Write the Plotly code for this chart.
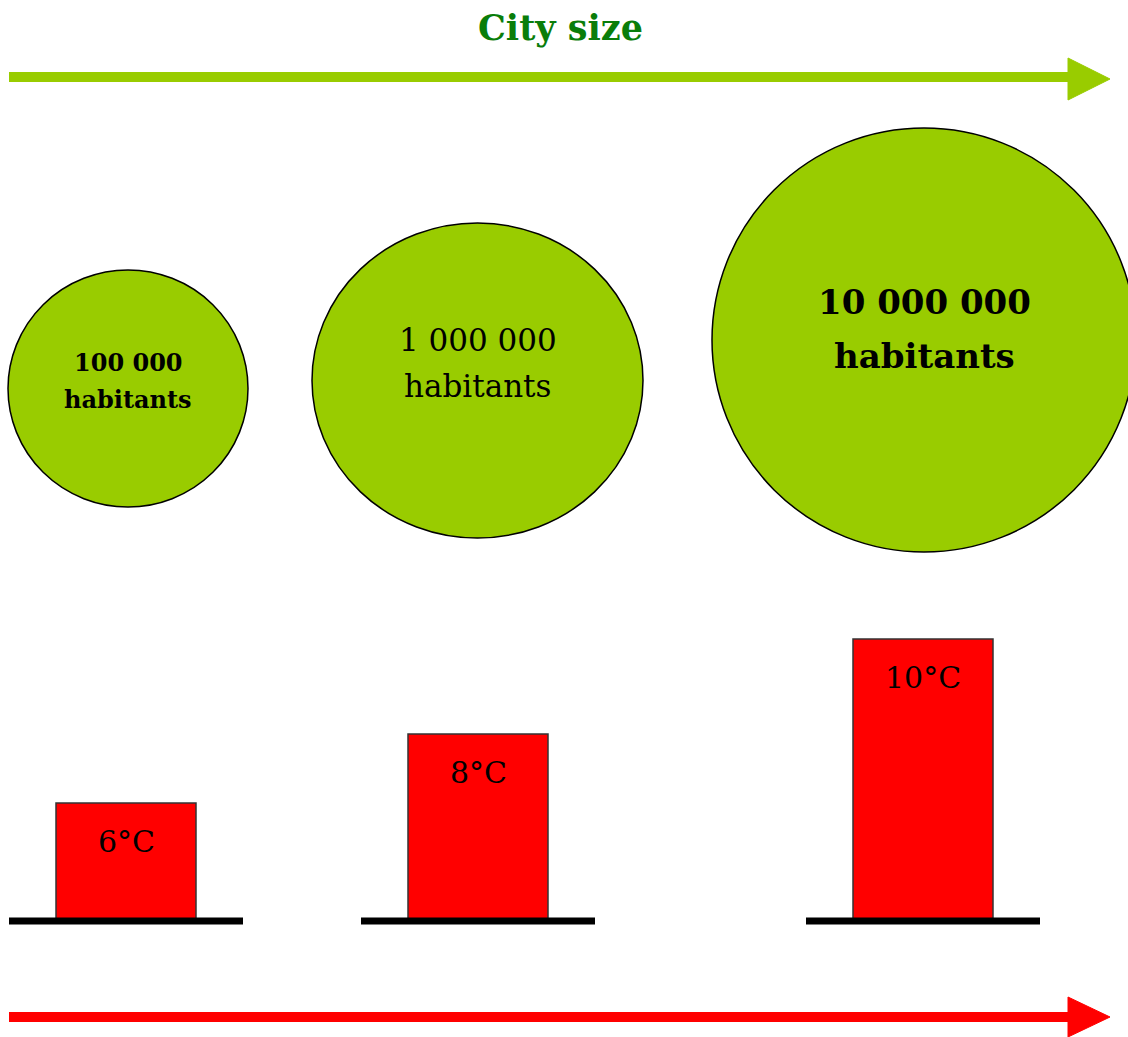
import plotly.graph_objects as go

# ---------------- data ----------------
city_categories = ["small", "medium", "large"]
populations = [100000, 1000000, 10000000]
temperatures = [6, 8, 10]                 # °C labels
bar_heights = [118, 187, 282]             # drawn bar heights
title_text = "City size"
unit_text = "habitants"

# ---------------- layout constants (pixel frame, y up) ----------------
W, H = 1128, 1037
bar_centers = [126, 478, 923]
bar_width = 140
base_y = H - 921
circle_boxes = [(8, 248, 270, 507), (312, 643, 223, 538), (712, 1136, 128, 552)]  # x0,x1,ytop,ybot (image px)
circle_font = [dict(size=24, bold=True), dict(size=31, bold=False), dict(size=34, bold=True)]
line1_y = [362, 340, 302]
line2_y = [399, 386, 356]

GREEN = "#99CC00"
RED = "#FF0000"

def fy(y):
    return H - y

fig = go.Figure()

fig.add_trace(go.Bar(
    x=bar_centers, y=bar_heights, base=base_y, width=bar_width,
    marker=dict(color=RED, line=dict(color="#333333", width=1.5)),
    hoverinfo="skip", showlegend=False,
))

shapes = []
# circles
for (x0, x1, yt, yb) in circle_boxes:
    shapes.append(dict(type="circle", xref="x", yref="y", x0=x0, x1=x1, y0=fy(yb), y1=fy(yt),
                       fillcolor=GREEN, line=dict(color="black", width=1.5), layer="below"))
# baselines
for c in bar_centers:
    shapes.append(dict(type="line", xref="x", yref="y", x0=c - 117, x1=c + 117, y0=base_y, y1=base_y,
                       line=dict(color="black", width=7), layer="above"))
# top arrow
shapes.append(dict(type="line", xref="x", yref="y", x0=9, x1=1072, y0=fy(77), y1=fy(77),
                   line=dict(color=GREEN, width=10)))
shapes.append(dict(type="path", xref="x", yref="y",
                   path=f"M1068,{fy(58)} L1110,{fy(79)} L1068,{fy(100)} Z",
                   fillcolor=GREEN, line=dict(color=GREEN, width=1)))
# bottom arrow
shapes.append(dict(type="line", xref="x", yref="y", x0=9, x1=1072, y0=fy(1017), y1=fy(1017),
                   line=dict(color=RED, width=10)))
shapes.append(dict(type="path", xref="x", yref="y",
                   path=f"M1068,{fy(997)} L1110,{fy(1017)} L1068,{fy(1037)} Z",
                   fillcolor=RED, line=dict(color=RED, width=1)))

annotations = []
annotations.append(dict(x=560, y=fy(27), xref="x", yref="y", text=f"<b>{title_text}</b>", showarrow=False,
                        font=dict(family="DejaVu Serif", size=35, color="#0A7D0A"),
                        xanchor="center", yanchor="middle"))
for i, p in enumerate(populations):
    x0, x1, yt, yb = circle_boxes[i]
    cx = (x0 + x1) / 2 if i < 2 else 924
    num = f"{p:,}".replace(",", " ")
    f = circle_font[i]
    wrap = (lambda s: f"<b>{s}</b>") if f["bold"] else (lambda s: s)
    annotations.append(dict(x=cx, y=fy(line1_y[i]), xref="x", yref="y", text=wrap(num), showarrow=False,
                            font=dict(family="DejaVu Serif", size=f["size"], color="black"),
                            xanchor="center", yanchor="middle"))
    annotations.append(dict(x=cx, y=fy(line2_y[i]), xref="x", yref="y", text=wrap(unit_text), showarrow=False,
                            font=dict(family="DejaVu Serif", size=f["size"], color="black"),
                            xanchor="center", yanchor="middle"))
for c, h, t in zip(bar_centers, bar_heights, temperatures):
    annotations.append(dict(x=c, y=base_y + h, xref="x", yref="y", text=f"{t}°C", showarrow=False,
                            yshift=-38, font=dict(family="DejaVu Serif", size=30, color="black"),
                            xanchor="center", yanchor="middle"))

fig.update_layout(
    width=W, height=H,
    margin=dict(l=0, r=0, t=0, b=0),
    paper_bgcolor="white", plot_bgcolor="white",
    xaxis=dict(range=[0, W], visible=False, fixedrange=True),
    yaxis=dict(range=[0, H], visible=False, fixedrange=True),
    shapes=shapes, annotations=annotations,
    showlegend=False,
)

fig.write_html("out.html", config={"displayModeBar": False},
               post_script="document.body.style.margin='0';document.body.style.overflow='hidden';")
